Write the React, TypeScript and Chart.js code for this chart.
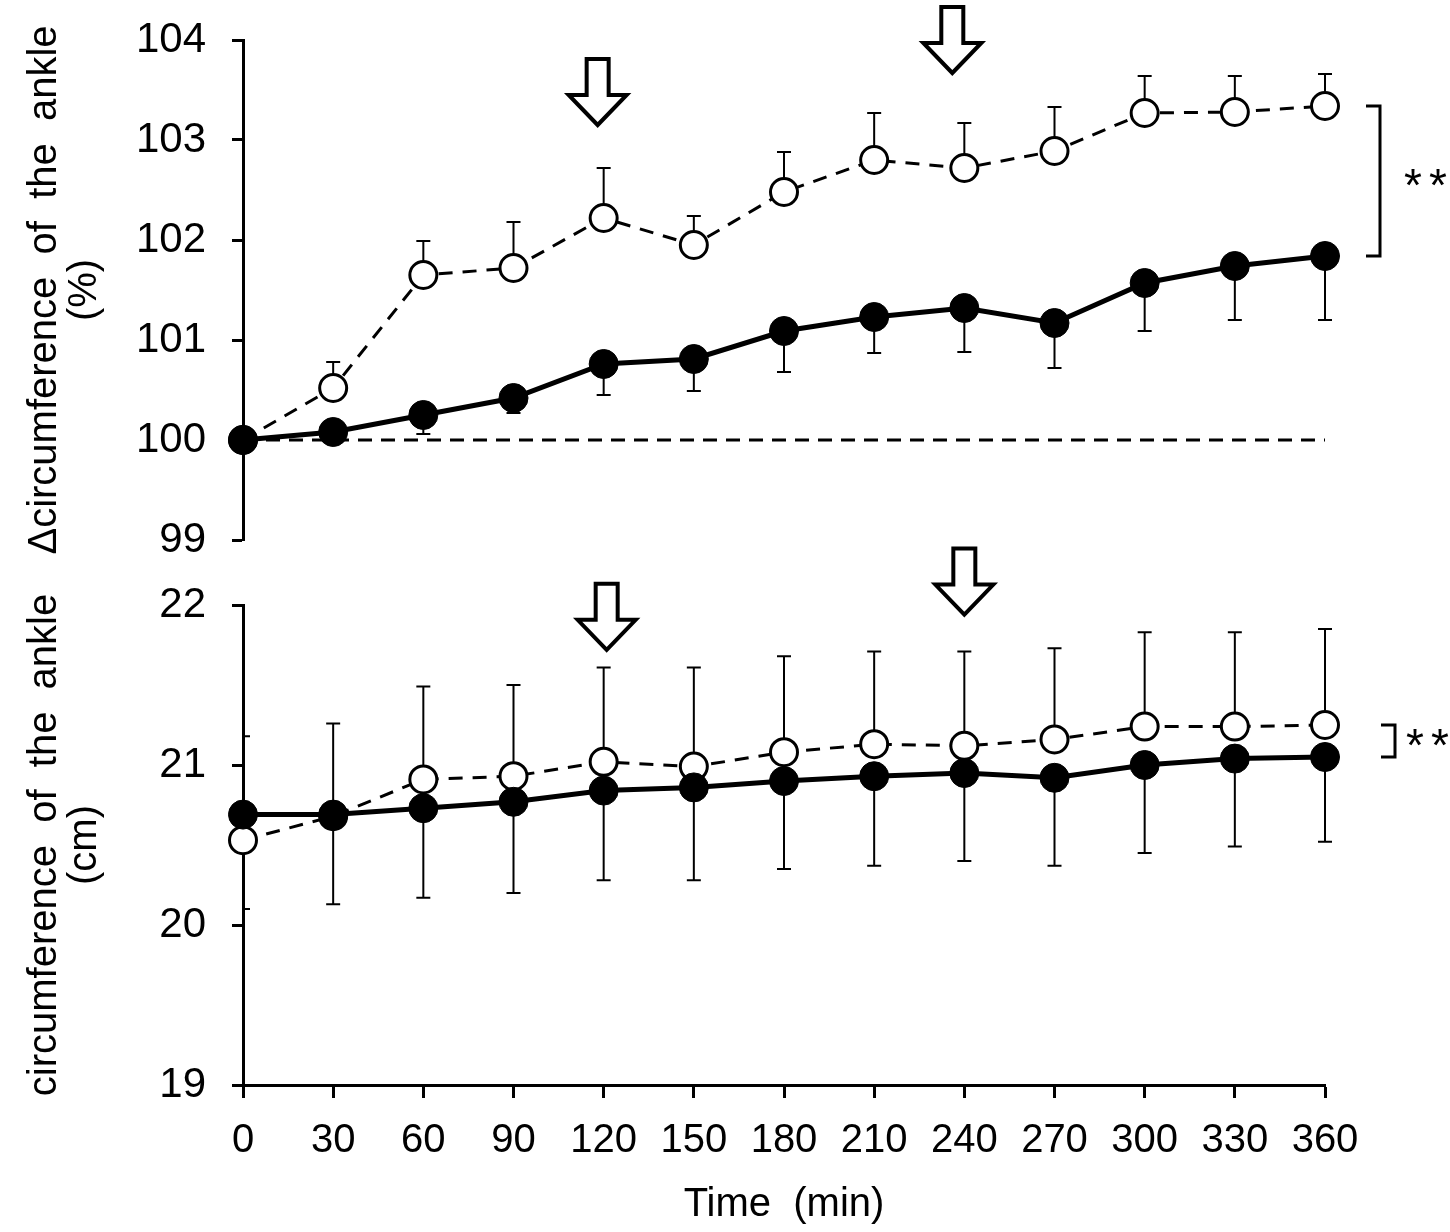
import { useEffect, useRef } from "react"
import { Chart, registerables } from "chart.js"

Chart.register(...registerables)

const times = [0, 30, 60, 90, 120, 150, 180, 210, 240, 270, 300, 330, 360]

// upper panel: relative circumference (%)
const pctOpen = [100, 100.52, 101.65, 101.72, 102.22, 101.95, 102.48, 102.8, 102.72, 102.89, 103.27, 103.28, 103.34]
const pctOpenUpper = [100, 100.78, 101.99, 102.18, 102.72, 102.24, 102.88, 103.27, 103.17, 103.33, 103.64, 103.64, 103.66]
const pctFilled = [100, 100.08, 100.25, 100.42, 100.76, 100.81, 101.09, 101.23, 101.32, 101.17, 101.57, 101.74, 101.84]
const pctFilledLower = [100, 100.08, 100.06, 100.27, 100.45, 100.49, 100.68, 100.87, 100.88, 100.72, 101.09, 101.2, 101.2]
const pctBaseline = [100, 100]
const pctArrowTimes = [118, 236]
const pctArrowTips = [103.15, 103.67]

// lower panel: absolute circumference (cm)
const cmOpen = [20.53, 20.68, 20.91, 20.93, 21.02, 20.99, 21.08, 21.13, 21.12, 21.16, 21.24, 21.24, 21.25]
const cmOpenUpper = [21.18, 21.26, 21.49, 21.5, 21.61, 21.61, 21.68, 21.71, 21.71, 21.73, 21.83, 21.83, 21.85]
const cmFilled = [20.69, 20.69, 20.73, 20.77, 20.84, 20.86, 20.9, 20.93, 20.95, 20.92, 21.0, 21.04, 21.05]
const cmFilledLower = [20.1, 20.13, 20.17, 20.2, 20.28, 20.28, 20.35, 20.37, 20.4, 20.37, 20.45, 20.49, 20.52]
const cmArrowTimes = [121, 240]
const cmArrowTips = [21.72, 21.94]

const FONT = "'Liberation Sans', Arial, sans-serif"

interface PanelSpec {
  yMin: number
  yMax: number
  title: string[]
  open: number[]
  openUpper: number[]
  filled: number[]
  filledLower: number[]
  baseline?: number[]
  arrowTimes: number[]
  arrowTips: number[]
  bracketGap: number
  starGap: number
  showX: boolean
  padTop: number
  padBottom: number
}

function marksPlugin(spec: PanelSpec) {
  return {
    id: "marks",
    beforeDatasetsDraw(chart: Chart) {
      const { ctx, chartArea } = chart
      const xs = chart.scales.x
      const ys = chart.scales.y
      ctx.save()
      ctx.beginPath()
      ctx.rect(chartArea.left, chartArea.top - 40, chartArea.right - chartArea.left + 20, chartArea.bottom - chartArea.top + 40)
      ctx.clip()
      ctx.strokeStyle = "#000"
      ctx.lineWidth = 2
      const bar = (t: number, from: number, to: number) => {
        if (from === to) return
        const x = xs.getPixelForValue(t)
        const y0 = ys.getPixelForValue(from)
        const y1 = ys.getPixelForValue(to)
        ctx.beginPath()
        ctx.moveTo(x, y0)
        ctx.lineTo(x, y1)
        ctx.moveTo(x - 7, y1)
        ctx.lineTo(x + 7, y1)
        ctx.stroke()
      }
      times.forEach((t, i) => {
        bar(t, spec.open[i], spec.openUpper[i])
        bar(t, spec.filled[i], spec.filledLower[i])
      })
      ctx.restore()
    },
    afterDraw(chart: Chart) {
      const { ctx, chartArea } = chart
      const xs = chart.scales.x
      const ys = chart.scales.y
      ctx.save()
      ctx.strokeStyle = "#000"
      ctx.fillStyle = "#fff"
      ctx.lineWidth = 4
      ctx.lineJoin = "miter"
      // hollow down arrows
      spec.arrowTimes.forEach((t, i) => {
        const x = xs.getPixelForValue(t)
        const tip = ys.getPixelForValue(spec.arrowTips[i])
        const sw = 11, hw = 29, hh = 30, h = 66
        ctx.beginPath()
        ctx.moveTo(x, tip)
        ctx.lineTo(x - hw, tip - hh)
        ctx.lineTo(x - sw, tip - hh)
        ctx.lineTo(x - sw, tip - h)
        ctx.lineTo(x + sw, tip - h)
        ctx.lineTo(x + sw, tip - hh)
        ctx.lineTo(x + hw, tip - hh)
        ctx.closePath()
        ctx.fill()
        ctx.stroke()
      })
      // significance bracket
      const last = times.length - 1
      const top = ys.getPixelForValue(spec.open[last])
      const bot = ys.getPixelForValue(spec.filled[last])
      const bx = chartArea.right + spec.bracketGap
      ctx.lineWidth = 3
      ctx.beginPath()
      ctx.moveTo(bx - 14, top)
      ctx.lineTo(bx, top)
      ctx.lineTo(bx, bot)
      ctx.lineTo(bx - 14, bot)
      ctx.stroke()
      ctx.fillStyle = "#000"
      ctx.font = `46px ${FONT}`
      ctx.textAlign = "center"
      ctx.textBaseline = "alphabetic"
      const mid = (top + bot) / 2 - 3
      ctx.fillText("*", bx + spec.starGap, mid + 23)
      ctx.fillText("*", bx + spec.starGap + 25, mid + 23)
      ctx.restore()
    },
  }
}

function Panel({ spec, width, height }: { spec: PanelSpec; width: number; height: number }) {
  const canvasRef = useRef<HTMLCanvasElement>(null)
  const chartRef = useRef<Chart | null>(null)

  useEffect(() => {
    if (!canvasRef.current) return
    if (chartRef.current) chartRef.current.destroy()

    const datasets: any[] = [
      {
        data: times.map((t, i) => ({ x: t, y: spec.filled[i] })),
        borderColor: "#000",
        borderWidth: 5,
        pointRadius: 14.5,
        pointBackgroundColor: "#000",
        pointBorderColor: "#000",
        pointBorderWidth: 1,
        clip: false,
      },
      {
        data: times.map((t, i) => ({ x: t, y: spec.open[i] })),
        borderColor: "#000",
        borderWidth: 3,
        borderDash: [14, 10],
        pointRadius: 13.5,
        pointBackgroundColor: "#fff",
        pointBorderColor: "#000",
        pointBorderWidth: 3,
        clip: false,
      },
    ]
    if (spec.baseline) {
      datasets.push({
        data: [
          { x: times[0], y: spec.baseline[0] },
          { x: times[times.length - 1], y: spec.baseline[1] },
        ],
        borderColor: "#000",
        borderWidth: 3,
        borderDash: [14, 9],
        pointRadius: 0,
        clip: false,
      })
    }

    chartRef.current = new Chart(canvasRef.current, {
      type: "line",
      data: { datasets },
      plugins: [marksPlugin(spec)],
      options: {
        responsive: false,
        animation: false,
        layout: { padding: { left: 0, right: 125, top: spec.padTop, bottom: spec.padBottom } },
        plugins: { legend: { display: false }, tooltip: { enabled: false } },
        elements: { line: { tension: 0 } },
        scales: {
          x: {
            type: "linear",
            min: 0,
            max: 360,
            display: spec.showX,
            afterFit: (scale: any) => {
              if (spec.showX) scale.height = 147
              scale.paddingLeft = 0
              scale.paddingRight = 0
            },
            ticks: {
              stepSize: 30,
              color: "#000",
              font: { family: FONT, size: 40 },
              padding: 19,
              maxRotation: 0,
              autoSkip: false,
            },
            grid: { drawOnChartArea: false, drawTicks: true, tickLength: 13, tickWidth: 3, tickColor: "#000" },
            border: { display: true, color: "#000", width: 3 },
            title: {
              display: true,
              text: "Time  (min)",
              color: "#000",
              font: { family: FONT, size: 40, lineHeight: 1 },
              padding: { top: 0, bottom: 7 },
            },
          },
          y: {
            type: "linear",
            min: spec.yMin,
            max: spec.yMax,
            afterFit: (scale: any) => {
              scale.width = 243
              scale.paddingTop = 0
              scale.paddingBottom = 0
            },
            ticks: {
              stepSize: 1,
              color: "#000",
              font: { family: FONT, size: 42 },
              padding: 26,
            },
            grid: { drawOnChartArea: false, drawTicks: true, tickLength: 11, tickWidth: 3, tickColor: "#000" },
            border: { display: true, color: "#000", width: 3 },
            title: {
              display: true,
              text: spec.title,
              color: "#000",
              font: { family: FONT, size: 40, lineHeight: 1 },
              padding: { top: 25, bottom: 0 },
            },
          },
        },
      },
    } as any)

    return () => {
      if (chartRef.current) {
        chartRef.current.destroy()
        chartRef.current = null
      }
    }
  }, [spec])

  return <canvas ref={canvasRef} width={width} height={height} style={{ display: "block", width, height }} />
}

const upperSpec: PanelSpec = {
  yMin: 99,
  yMax: 104,
  title: ["\u0394circumference  of  the  ankle", "(%)"],
  open: pctOpen,
  openUpper: pctOpenUpper,
  filled: pctFilled,
  filledLower: pctFilledLower,
  baseline: pctBaseline,
  arrowTimes: pctArrowTimes,
  arrowTips: pctArrowTips,
  bracketGap: 55,
  starGap: 33,
  showX: false,
  padTop: 40,
  padBottom: 40,
}

const lowerSpec: PanelSpec = {
  yMin: 19,
  yMax: 22,
  title: ["circumference  of  the  ankle", "(cm)"],
  open: cmOpen,
  openUpper: cmOpenUpper,
  filled: cmFilled,
  filledLower: cmFilledLower,
  arrowTimes: cmArrowTimes,
  arrowTips: cmArrowTips,
  bracketGap: 70,
  starGap: 20,
  showX: true,
  padTop: 105,
  padBottom: 0,
}

export default function App() {
  return (
    <div style={{ position: "absolute", left: 0, top: 0, width: 1450, height: 1232, background: "#fff" }}>
      <div style={{ position: "absolute", left: 0, top: 0 }}>
        <Panel spec={upperSpec} width={1450} height={580} />
      </div>
      <div style={{ position: "absolute", left: 0, top: 500 }}>
        <Panel spec={lowerSpec} width={1450} height={732} />
      </div>
    </div>
  )
}
